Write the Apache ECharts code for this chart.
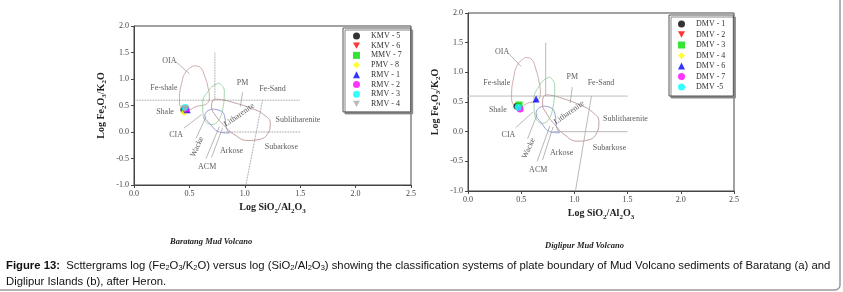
<!DOCTYPE html>
<html>
<head>
<meta charset="utf-8">
<script src="https://cdn.jsdelivr.net/npm/echarts@6/dist/echarts.min.js"></script>
<style>
  html, body { margin: 0; padding: 0; background: #fff; }
  #chart { width: 843px; height: 292px; }
</style>
</head>
<body>
<div id="chart"></div>
<script>
// samples, Baratang (left)
const leftSamples = ["KMV - 5", "KMV - 6", "MMV - 7", "PMV - 8", "RMV - 1", "RMV - 2", "RMV - 3", "RMV - 4"];
const leftX = [0.45, 0.46, 0.46, 0.45, 0.48, 0.47, 0.46, 0.46];
const leftY = [0.42, 0.43, 0.42, 0.37, 0.42, 0.43, 0.46, 0.44];

// samples, Diglipur (right)
const rightSamples = ["DMV - 1", "DMV - 2", "DMV - 3", "DMV - 4", "DMV - 6", "DMV - 7", "DMV -5"];
const rightX = [0.46, 0.47, 0.48, 0.48, 0.64, 0.49, 0.47];
const rightY = [0.43, 0.42, 0.45, 0.40, 0.55, 0.38, 0.41];

// Herron field outlines (log SiO2/Al2O3, log Fe2O3/K2O)
const oiaField = [[0.54, 1.25], [0.59, 1.23], [0.64, 1.04], [0.67, 0.82], [0.68, 0.67], [0.66, 0.54], [0.56, 0.48], [0.49, 0.42], [0.43, 0.45], [0.41, 0.60], [0.43, 0.92], [0.47, 1.14]];
const greenField = [[0.77, 0.92], [0.815, 0.78], [0.80, 0.42], [0.70, 0.14], [0.625, 0.30], [0.62, 0.54], [0.68, 0.80], [0.73, 0.89]];
const blueField = [[0.71, 0.43], [0.79, 0.39], [0.82, 0.27], [0.83, 0.10], [0.86, -0.02], [0.79, -0.01], [0.67, 0.19], [0.64, 0.30], [0.66, 0.39]];
const brownField = [[0.73, 0.62], [0.79, 0.61], [0.89, 0.56], [1.04, 0.46], [1.17, 0.33], [1.23, 0.16], [1.21, -0.02], [1.13, -0.14], [1.03, -0.16], [0.90, -0.04], [0.82, 0.11], [0.74, 0.30], [0.70, 0.48], [0.71, 0.59]];

// classification boundaries
const boundLines = [
  [[0, 0.6], [1.5, 0.6]],
  [[0.73, 1.5], [0.73, 0.6]],
  [[0.8, 0], [1.5, 0]],
  [[1.16, 0.6], [1.01, -1.0]]
];
// leader lines from labels
const leaderLines = [
  [[0.38, 1.32], [0.50, 1.10]],
  [[0.98, 0.75], [0.96, 0.48]],
  [[0.45, 0.07], [0.61, 0.33]],
  [[0.56, -0.12], [0.65, 0.29]],
  [[0.65, -0.50], [0.77, 0.10]],
  [[0.70, -0.48], [0.80, 0.08]]
];
const fieldNames = ["OIA", "Fe-shale", "Shale", "CIA", "Wacke", "ACM", "Arkose", "Subarkose", "Sublitharenite", "Litharenite", "PM", "Fe-Sand"];
const fieldLabelX = [0.32, 0.27, 0.28, 0.38, 0.57, 0.66, 0.88, 1.33, 1.48, 0.95, 0.98, 1.25];
const fieldLabelY = [1.35, 0.83, 0.37, -0.06, -0.28, -0.65, -0.35, -0.28, 0.22, 0.32, 0.93, 0.82];
const fieldLabelRot = [0, 0, 0, 0, 65, 0, 0, 0, 0, 35, 0, 0];

const serif = "Liberation Serif";
const triDown = "path://M0,0L10,0L5,9Z";
const leftStyle = [
  ["circle", "#000"], [triDown, "#f00"], ["rect", "#00e000"], ["diamond", "#ffff00"],
  ["triangle", "#0000ff"], ["circle", "#ff00ff"], ["circle", "#00ffff"], [triDown, "#aaaaaa"]
];
const rightStyle = [
  ["circle", "#000"], [triDown, "#f00"], ["rect", "#00e000"], ["diamond", "#ffff00"],
  ["triangle", "#0000ff"], ["circle", "#ff00ff"], ["circle", "#00ffff"]
];

const subRich = {
  s: { fontSize: 7, fontFamily: serif, fontWeight: "bold", color: "#222", padding: [6, 0, 0, 0] }
};

function makeAxes(i) {
  const x = {
    gridIndex: i, type: "value", min: 0, max: 2.5, interval: 0.5,
    name: "Log SiO{s|2}/Al{s|2}O{s|3}", nameLocation: "middle", nameGap: 16,
    nameTextStyle: { fontFamily: serif, fontWeight: "bold", fontSize: 10, color: "#222", rich: subRich },
    axisLine: { onZero: false, lineStyle: { color: "#444", width: 1 } },
    axisTick: { length: 3, lineStyle: { color: "#444" } },
    axisLabel: { fontFamily: serif, fontSize: 8, color: "#444", margin: 5, formatter: v => v.toFixed(1) },
    splitLine: { show: false }
  };
  const y = {
    gridIndex: i, type: "value", min: -1, max: 2, interval: 0.5,
    name: "Log Fe{s|2}O{s|3}/K{s|2}O", nameLocation: "middle", nameGap: 26,
    nameTextStyle: { fontFamily: serif, fontWeight: "bold", fontSize: 10, color: "#222", rich: subRich },
    axisLine: { onZero: false, lineStyle: { color: "#444", width: 1 } },
    axisTick: { length: 3, lineStyle: { color: "#444" } },
    axisLabel: { fontFamily: serif, fontSize: 8, color: "#444", margin: 5, formatter: v => v.toFixed(1) },
    splitLine: { show: false }
  };
  return [x, y];
}

function closed(pts) { return pts.concat([pts[0]]); }

function makeDiagram(i, bType, bColor) {
  const out = [];
  const base = { xAxisIndex: i, yAxisIndex: i, silent: true, symbol: "none", animation: false };
  [[oiaField, "#c8a2a2"], [greenField, "#98d0a4"], [blueField, "#8a92cc"], [brownField, "#b99595"]].forEach(f => {
    out.push(Object.assign({ type: "line", data: closed(f[0]), smooth: 0.5, lineStyle: { color: f[1], width: 0.9 } }, base));
  });
  boundLines.forEach(l => {
    out.push(Object.assign({ type: "line", data: l, lineStyle: { color: bColor, width: 0.8, type: bType } }, base));
  });
  leaderLines.forEach(l => {
    out.push(Object.assign({ type: "line", data: l, lineStyle: { color: "#999", width: 0.7 } }, base));
  });
  out.push({
    type: "scatter", xAxisIndex: i, yAxisIndex: i, silent: true, z: 4,
    symbol: "circle", symbolSize: 1, itemStyle: { color: "rgba(0,0,0,0)" },
    data: fieldNames.map((n, k) => ({
      name: n, value: [fieldLabelX[k], fieldLabelY[k]],
      label: { rotate: fieldLabelRot[k] }
    })),
    label: { show: true, position: "inside", formatter: "{b}", fontFamily: serif, fontSize: 8, color: "#333" }
  });
  return out;
}

function sampleSeries(i, names, xs, ys, styles) {
  return names.map((n, k) => ({
    type: "scatter", name: n, xAxisIndex: i, yAxisIndex: i, z: 5,
    symbol: styles[k][0], symbolSize: 7,
    itemStyle: { color: styles[k][1] },
    data: [[xs[k], ys[k]]]
  }));
}

const la = makeAxes(0), ra = makeAxes(1);

const legendBase = {
  orient: "vertical", itemWidth: 7, itemHeight: 7,
  backgroundColor: "#fff", borderColor: "#555", borderWidth: 1,
  shadowColor: "#888", shadowOffsetX: 2, shadowOffsetY: 2, shadowBlur: 0,
  textStyle: { fontFamily: serif, fontSize: 8, color: "#333", padding: [0, 0, 0, 6] },
  selectedMode: false
};

const option = {
  animation: false,
  grid: [
    { left: 134, top: 26, width: 277, height: 159, show: true, borderColor: "#444", borderWidth: 1 },
    { left: 468, top: 13, width: 266, height: 178, show: true, borderColor: "#444", borderWidth: 1 }
  ],
  xAxis: [la[0], ra[0]],
  yAxis: [la[1], ra[1]],
  legend: [
    Object.assign({ left: 343, top: 28, itemGap: 1.7, padding: [4, 9, 4, 10], data: leftSamples }, legendBase),
    Object.assign({ left: 669, top: 15, itemGap: 2.5, padding: [5, 8, 5, 9], data: rightSamples }, legendBase)
  ],
  series: [].concat(
    makeDiagram(0, "dotted", "#777"),
    makeDiagram(1, "solid", "#aaa"),
    sampleSeries(0, leftSamples, leftX, leftY, leftStyle),
    sampleSeries(1, rightSamples, rightX, rightY, rightStyle)
  ),
  graphic: [
    {
      type: "rect", silent: true,
      shape: { x: -5, y: -5, width: 845, height: 295, r: 5 },
      style: { fill: "none", stroke: "#999", lineWidth: 1.5 }
    },
    {
      type: "text", left: 170, top: 237,
      style: { text: "Baratang Mud Volcano", font: "italic bold 8.5px 'Liberation Serif'", fill: "#222" }
    },
    {
      type: "text", left: 545, top: 241,
      style: { text: "Diglipur Mud Volcano", font: "italic bold 8.5px 'Liberation Serif'", fill: "#222" }
    },
    {
      type: "text", left: 6, top: 260,
      style: {
        text: "{b|Figure 13:}  Scttergrams log (Fe{s|2}O{s|3}/K{s|2}O) versus log (SiO{s|2}/Al{s|2}O{s|3}) showing the classification systems of plate boundary of Mud Volcano sediments of Baratang (a) and",
        font: "11.3px 'Liberation Sans'", fill: "#111",
        rich: {
          b: { fontWeight: "bold", fontSize: 11.3, fontFamily: "Liberation Sans", fill: "#111" },
          s: { fontSize: 7.5, fontFamily: "Liberation Sans", fill: "#111", padding: [5, 0, 0, 0] }
        }
      }
    },
    {
      type: "text", left: 6, top: 276,
      style: { text: "Diglipur Islands (b), after Heron.", font: "11.3px 'Liberation Sans'", fill: "#111" }
    }
  ]
};

const chart = echarts.init(document.getElementById("chart"));
chart.setOption(option);
</script>
</body>
</html>
